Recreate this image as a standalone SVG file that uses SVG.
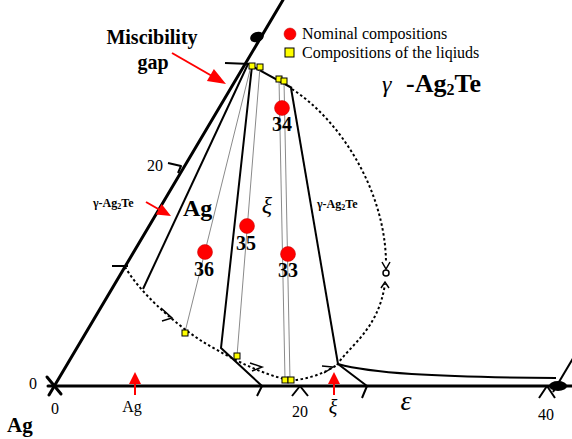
<svg xmlns="http://www.w3.org/2000/svg" width="572" height="439" viewBox="0 0 572 439">
<style>
.ax{stroke:#000;stroke-width:3;fill:none;stroke-linecap:round}
.ln{stroke:#000;stroke-width:2;fill:none;stroke-linejoin:round}
.gr{stroke:#8a8a8a;stroke-width:1;fill:none}
.ds{stroke:#000;stroke-width:2;fill:none;stroke-dasharray:2.5 2.5}
.ch{stroke:#000;stroke-width:1.5;fill:none}
.sq{fill:#ffff00;stroke:#000;stroke-width:1}
.ci{fill:#ff0000;stroke:#c00000;stroke-width:0.5}
.ra{fill:#ff0000;stroke:none}
.rl{stroke:#ff0000;stroke-width:2;fill:none}
.t{font-family:"Liberation Serif","DejaVu Serif",serif;fill:#000}
.b{font-weight:bold}
.c{text-anchor:middle}
</style>
<rect width="572" height="439" fill="#fff"/>
<g id="connectors">
<path class="ax" d="M49,395 L283,0"/>
<path class="ax" d="M47,377 L61,394"/>
<path class="ax" d="M48,386 L572,386"/>
<path class="ln" d="M225,63 L250,64"/>
<path class="ln" d="M112,266 L128,266"/>
<path class="ln" d="M168,163 L181,166 L178,173"/>
<path class="ln" d="M292,396 L300,386 L308,396"/>
<path class="ln" d="M539,398 L547,386 L555,398"/>
<path class="ln" d="M248,64 L143,289"/>
<path class="ln" d="M250,65 L292,88"/>
<path class="ln" d="M252,66 L221,348 L262,386 L257,396"/>
<path class="ln" d="M291,88 L338,364"/>
<path class="ln" d="M338,364 L367,386 L362,398"/>
<path class="ln" d="M338,364 C370,373 430,377 556,378"/>
<path class="ln" d="M553,392 L575,355"/>
<path class="gr" d="M251,66 L185,332"/>
<path class="gr" d="M260,67 L237,356"/>
<path class="gr" d="M279,79 L285,379"/>
<path class="gr" d="M284,81 L290,380"/>
<path class="ds" d="M292,89 C340,120 385,190 386,262"/>
<path class="ds" d="M337,365 C350,345 378,330 385,284"/>
<path class="ds" d="M125,267 C140,292 170,320 200,340 C225,355 255,372 288,380 C305,381 325,373 337,365"/>
<path class="ch" d="M161,308 L172,318 L162,321"/>
<path class="ch" d="M250,363 L262,367 L252,371"/>
<path class="ch" d="M322,366 L333,367 L324,373"/>
<path class="ch" d="M382,262 L386,269 L390,262"/>
<path class="ch" d="M381,288 L385,282 L389,288"/>
<circle cx="386" cy="273" r="3" fill="#fff" stroke="#000" stroke-width="1.5"/>
<ellipse cx="257" cy="37" rx="7" ry="5" transform="rotate(-20 257 37)" fill="#000"/>
<ellipse cx="558" cy="386" rx="9" ry="5" fill="#000"/>
</g>
<g id="red-arrows">
<path class="rl" d="M172,53 L212,76" stroke-width="2.5"/>
<polygon class="ra" points="226,84 206.9,81.1 213.9,68.9"/>
<path class="rl" d="M146,202 L160,210"/>
<polygon class="ra" points="171,216 155.8,214.6 161.6,204"/>
<path class="rl" d="M135,384 L135,395"/>
<polygon class="ra" points="135,372 129,384 141,384"/>
<path class="rl" d="M334,384 L334,395"/>
<polygon class="ra" points="334,372 328,384 340,384"/>
</g>
<g id="liquid-squares">
<rect class="sq" x="249" y="63" width="6" height="6"/>
<rect class="sq" x="257" y="64" width="6" height="6"/>
<rect class="sq" x="276" y="76" width="6" height="6"/>
<rect class="sq" x="281" y="78" width="6" height="6"/>
<rect class="sq" x="182" y="330" width="6" height="6"/>
<rect class="sq" x="234" y="353" width="6" height="6"/>
<rect class="sq" x="282" y="377" width="6" height="6"/>
<rect class="sq" x="288" y="377" width="6" height="6"/>
</g>
<g id="sample-34"><circle class="ci" cx="282" cy="108" r="7.5"/><text class="t b c" x="282" y="131" font-size="20">34</text></g>
<g id="sample-35"><circle class="ci" cx="247" cy="226" r="7.5"/><text class="t b c" x="246" y="250" font-size="20">35</text></g>
<g id="sample-36"><circle class="ci" cx="205" cy="252" r="7.5"/><text class="t b c" x="204" y="276" font-size="20">36</text></g>
<g id="sample-33"><circle class="ci" cx="288" cy="254" r="7.5"/><text class="t b c" x="288" y="277" font-size="20">33</text></g>
<g id="legend">
<circle class="ci" cx="290" cy="34" r="6"/>
<text class="t" x="302" y="39" font-size="16">Nominal compositions</text>
<rect class="sq" x="285" y="48" width="9" height="9"/>
<text class="t" x="302" y="58" font-size="16">Compositions of the liqiuds</text>
</g>
<g id="labels">
<text class="t b c" x="152" y="44" font-size="20">Miscibility</text>
<text class="t b c" x="153" y="69" font-size="20">gap</text>
<text class="t" x="382" y="92" font-size="24" font-style="italic">γ</text>
<text class="t b" x="406" y="92" font-size="26">-Ag<tspan font-size="16" dy="3">2</tspan><tspan dy="-3">Te</tspan></text>
<text class="t c" x="155" y="171" font-size="16">20</text>
<text class="t b" x="93" y="207" font-size="12">γ-Ag<tspan font-size="8" dy="2">2</tspan><tspan dy="-2">Te</tspan></text>
<text class="t b" x="183" y="216" font-size="24">Ag</text>
<text class="t" x="267" y="213" font-size="24" font-style="italic" text-anchor="middle">ξ</text>
<text class="t b" x="317" y="208" font-size="12">γ-Ag<tspan font-size="8" dy="2">2</tspan><tspan dy="-2">Te</tspan></text>
<text class="t c" x="33" y="389" font-size="16">0</text>
<text class="t c" x="55" y="414" font-size="16">0</text>
<text class="t c" x="132" y="412" font-size="16">Ag</text>
<text class="t c" x="300" y="417" font-size="16">20</text>
<text class="t c" x="333" y="414" font-size="20" font-style="italic">ξ</text>
<text class="t c" x="406" y="410" font-size="28" font-style="italic">ε</text>
<text class="t c" x="546" y="420" font-size="16">40</text>
<text class="t b" x="7" y="432" font-size="21">Ag</text>
</g>
</svg>
